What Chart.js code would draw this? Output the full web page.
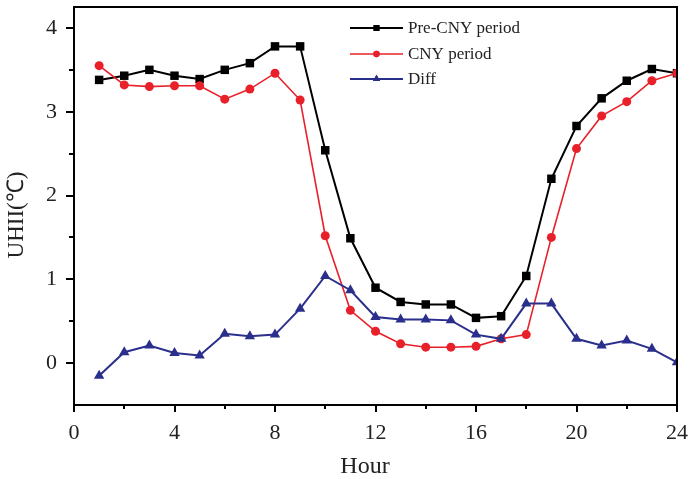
<!DOCTYPE html>
<html><head><meta charset="utf-8">
<script src="https://cdn.jsdelivr.net/npm/chart.js@4.4.1/dist/chart.umd.min.js"></script>
<style>html,body{margin:0;padding:0;background:#fff}#wrap{width:689px;height:479px}</style>
</head><body><div id="wrap"><canvas id="c" width="689" height="479"></canvas></div>
<script>
const hours = [1,2,3,4,5,6,7,8,9,10,11,12,13,14,15,16,17,18,19,20,21,22,23,24];
const preCNY = [3.38,3.43,3.50,3.43,3.39,3.50,3.58,3.78,3.78,2.54,1.49,0.90,0.73,0.70,0.70,0.54,0.56,1.04,2.20,2.83,3.16,3.37,3.51,3.46];
const cny    = [3.55,3.32,3.30,3.31,3.31,3.15,3.27,3.46,3.14,1.52,0.63,0.38,0.23,0.19,0.19,0.20,0.29,0.34,1.50,2.56,2.95,3.12,3.37,3.46];
const diff   = [-0.15,0.13,0.21,0.12,0.09,0.35,0.32,0.34,0.65,1.04,0.87,0.55,0.52,0.52,0.51,0.34,0.29,0.71,0.71,0.29,0.21,0.27,0.17,0.01];
const seriesNames = ['Pre-CNY period','CNY period','Diff'];
const seriesColors = ['#000000','#e8202a','#2b2f8c'];
const seriesMarkers = ['rect','circle','triangle'];
const xTickLabels = [0,4,8,12,16,20,24];
const yTickLabels = [0,1,2,3,4];
const xTitle = 'Hour';
const yTitle = 'UHII(\u2103)';
const FONT = "'Liberation Serif','Times New Roman',serif";

const markerRadius = [6,4.5,6];
const lineWidths = [2,1.6,2];
const seriesData = [preCNY, cny, diff];

const near = (v, list) => list.some(t => Math.abs(v - t) < 1e-6);

const datasets = seriesData.map((vals, i) => ({
  label: seriesNames[i],
  data: hours.map((h, k) => ({x: h, y: vals[k]})),
  borderColor: seriesColors[i],
  backgroundColor: seriesColors[i],
  pointBackgroundColor: seriesColors[i],
  pointBorderColor: seriesColors[i],
  pointBorderWidth: 0,
  pointStyle: seriesMarkers[i],
  pointRadius: markerRadius[i],
  borderWidth: lineWidths[i],
  tension: 0,
  order: i === 0 ? 3 : (i === 1 ? 2 : 1)
}));

const decorPlugin = {
  id: 'decor',
  afterDraw(chart) {
    const ctx = chart.ctx;
    const xs = chart.scales.x, ys = chart.scales.y;
    const a = chart.chartArea;
    ctx.save();
    ctx.strokeStyle = '#000';
    ctx.lineWidth = 2;
    ctx.beginPath();
    ctx.rect(a.left, a.top, a.right - a.left, a.bottom - a.top);
    ctx.stroke();
    for (let k = 0; k <= 12; k++) {
      const v = k * 2;
      const px = Math.round(xs.getPixelForValue(v));
      const len = (v % 4 === 0) ? 7 : 4;
      ctx.beginPath();
      ctx.moveTo(px, a.bottom);
      ctx.lineTo(px, a.bottom + len);
      ctx.stroke();
    }
    for (let k = 0; k <= 8; k++) {
      const v = k * 0.5;
      const py = Math.round(ys.getPixelForValue(v));
      const len = (k % 2 === 0) ? 8 : 5;
      ctx.beginPath();
      ctx.moveTo(a.left, py);
      ctx.lineTo(a.left - len, py);
      ctx.stroke();
    }
    ctx.fillStyle = '#222';
    ctx.font = "24px " + FONT;
    ctx.textAlign = 'center';
    ctx.textBaseline = 'middle';
    ctx.fillText(xTitle, 365, 467);
    ctx.save();
    ctx.translate(17, 215);
    ctx.rotate(-Math.PI / 2);
    ctx.font = "23px " + FONT;
    ctx.fillText(yTitle, 0, 0);
    ctx.restore();
    const lx0 = 350, lx1 = 403, ly = [28, 54, 79];
    ctx.font = "17px " + FONT;
    ctx.textAlign = 'left';
    ctx.textBaseline = 'middle';
    for (let i = 0; i < 3; i++) {
      ctx.strokeStyle = seriesColors[i];
      ctx.lineWidth = lineWidths[i];
      ctx.beginPath();
      ctx.moveTo(lx0, ly[i]);
      ctx.lineTo(lx1, ly[i]);
      ctx.stroke();
      ctx.fillStyle = seriesColors[i];
      Chart.helpers.drawPoint(ctx, {pointStyle: seriesMarkers[i], radius: markerRadius[i] * 0.7, borderWidth: 0, rotation: 0}, (lx0 + lx1) / 2, ly[i]);
      ctx.fill();
      ctx.fillStyle = '#222';
      ctx.fillText(seriesNames[i], 408, ly[i] + 1);
    }
    ctx.restore();
  }
};

new Chart(document.getElementById('c'), {
  type: 'line',
  data: { datasets },
  options: {
    responsive: false,
    animation: false,
    devicePixelRatio: 1,
    layout: { padding: { left: 0, top: 7, right: 12, bottom: 0 } },
    plugins: { legend: { display: false }, tooltip: { enabled: false } },
    scales: {
      x: {
        type: 'linear', min: 0, max: 24,
        grid: { display: false, drawTicks: false },
        border: { display: true, color: '#000', width: 2 },
        ticks: {
          stepSize: 2, padding: 15, color: '#222', maxRotation: 0, autoSkip: false,
          font: { family: FONT, size: 22 },
          callback: (v) => near(v, xTickLabels) ? String(Math.round(v)) : ''
        },
        afterFit: (s) => { s.height = 74; s.paddingLeft = 0; s.paddingRight = 0; s.paddingTop = 0; s.paddingBottom = 0; }
      },
      y: {
        type: 'linear', min: -0.5, max: 4.25,
        grid: { display: false, drawTicks: false },
        border: { display: true, color: '#000', width: 2 },
        ticks: {
          stepSize: 0.5, padding: 17, color: '#222', autoSkip: false, includeBounds: false,
          font: { family: FONT, size: 22 },
          callback: (v) => near(v, yTickLabels) ? String(Math.round(v)) : ''
        },
        afterFit: (s) => { s.width = 74; s.paddingLeft = 0; s.paddingRight = 0; s.paddingTop = 0; s.paddingBottom = 0; }
      }
    }
  },
  plugins: [decorPlugin]
});
</script>
</body></html>
